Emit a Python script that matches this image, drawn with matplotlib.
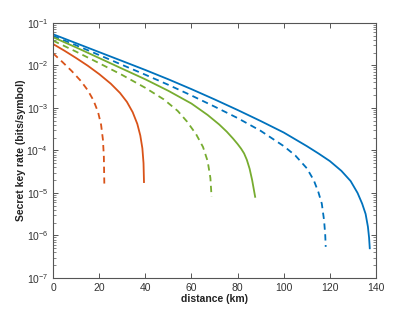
import matplotlib
matplotlib.use("Agg")
import matplotlib.pyplot as plt

plt.rcParams['font.family'] = ['Liberation Sans', 'DejaVu Sans']

# Data (distance km, secret key rate bits/symbol)
blue_solid_x = [0, 10, 20, 30, 40, 50, 60, 70, 80, 90, 100, 110, 115, 120, 125, 129, 132, 134, 135.5, 136.5, 137.0, 137.3]
blue_solid_y = [5.37e-2, 3.31e-2, 2.04e-2, 1.26e-2, 7.76e-3, 4.68e-3, 2.75e-3, 1.58e-3, 8.9e-4, 4.9e-4,
                2.63e-4, 1.26e-4, 8.5e-5, 5.6e-5, 3.3e-5, 1.9e-5, 1.0e-5, 5.6e-6, 3.2e-6, 1.6e-6, 8.9e-7, 5.0e-7]

blue_dash_x = [0, 10, 20, 30, 40, 50, 60, 70, 80, 90, 100, 105, 110, 113, 115, 116.5, 117.5, 118.0, 118.2]
blue_dash_y = [4.9e-2, 2.95e-2, 1.74e-2, 1.02e-2, 6.0e-3, 3.47e-3, 1.95e-3, 1.07e-3, 5.75e-4, 2.88e-4,
               1.26e-4, 7.6e-5, 3.8e-5, 2.0e-5, 1.05e-5, 5.6e-6, 2.24e-6, 1.0e-6, 5.4e-7]

green_solid_x = [0, 10, 20, 30, 40, 50, 60, 67, 72, 75.3, 78, 80, 81.5, 82.8, 84, 85.2, 86.3, 87.6]
green_solid_y = [4.57e-2, 2.63e-2, 1.48e-2, 8.3e-3, 4.68e-3, 2.51e-3, 1.26e-3, 6.8e-4, 4.07e-4, 2.75e-4,
                 1.9e-4, 1.41e-4, 1.1e-4, 8.5e-5, 6.0e-5, 3.7e-5, 2.0e-5, 8.1e-6]

green_dash_x = [0, 10, 20, 30, 40, 48, 54, 58, 62, 65, 67, 68.2, 68.7]
green_dash_y = [3.8e-2, 2.09e-2, 1.12e-2, 5.9e-3, 2.95e-3, 1.58e-3, 8.5e-4, 4.8e-4, 2.4e-4, 1.2e-4,
                5.6e-5, 2.24e-5, 8.1e-6]

red_solid_x = [0, 5, 10, 15, 20, 25, 29, 32, 34.5, 36.5, 37.8, 38.7, 39.2, 39.4]
red_solid_y = [3.16e-2, 2.19e-2, 1.48e-2, 9.8e-3, 6.2e-3, 3.7e-3, 2.24e-3, 1.38e-3, 7.9e-4, 4.2e-4,
               2.24e-4, 1.12e-4, 5.0e-5, 1.8e-5]

red_dash_x = [0, 4, 8, 12, 15, 17.5, 19.5, 20.8, 21.6, 22.0, 22.2]
red_dash_y = [1.91e-2, 1.2e-2, 7.4e-3, 4.3e-3, 2.6e-3, 1.5e-3, 7.9e-4, 4.0e-4, 1.78e-4, 7.1e-5, 1.66e-5]

x_ticks = [0, 20, 40, 60, 80, 100, 120, 140]
y_ticks = [1e-7, 1e-6, 1e-5, 1e-4, 1e-3, 1e-2, 1e-1]

BLUE = '#0072BD'
RED = '#D95319'
GREEN = '#77AC30'
AXC = '#555555'

fig = plt.figure(figsize=(4.15, 3.12), dpi=100)
ax = fig.add_axes([0.128, 0.109, 0.778, 0.818])

lw = 1.3
dash = (0, (3.5, 2.5))
ax.plot(blue_solid_x, blue_solid_y, color=BLUE, lw=lw)
ax.plot(blue_dash_x, blue_dash_y, color=BLUE, lw=lw, linestyle=dash)
ax.plot(green_solid_x, green_solid_y, color=GREEN, lw=lw)
ax.plot(green_dash_x, green_dash_y, color=GREEN, lw=lw, linestyle=dash)
ax.plot(red_solid_x, red_solid_y, color=RED, lw=lw)
ax.plot(red_dash_x, red_dash_y, color=RED, lw=lw, linestyle=dash)

ax.set_yscale('log')
ax.set_xlim(0, 140)
ax.set_ylim(1e-7, 1e-1)
ax.set_xticks(x_ticks)
ax.set_yticks(y_ticks)
ax.xaxis.set_minor_locator(matplotlib.ticker.NullLocator())

for s in ax.spines.values():
    s.set_color(AXC)
    s.set_linewidth(0.8)
ax.tick_params(which='both', direction='in', top=True, right=True, color=AXC,
               labelcolor='#333333', labelsize=7.5)
ax.tick_params(which='major', length=3.5, width=0.7)
ax.tick_params(which='minor', length=2, width=0.5)

ax.set_xlabel('distance (km)', fontsize=7.5, fontweight='bold', color='#222222', labelpad=1)
ax.set_ylabel('Secret key rate (bits/symbol)', fontsize=7.5, fontweight='bold', color='#222222', labelpad=0)

fig.savefig('out.png', dpi=100)
